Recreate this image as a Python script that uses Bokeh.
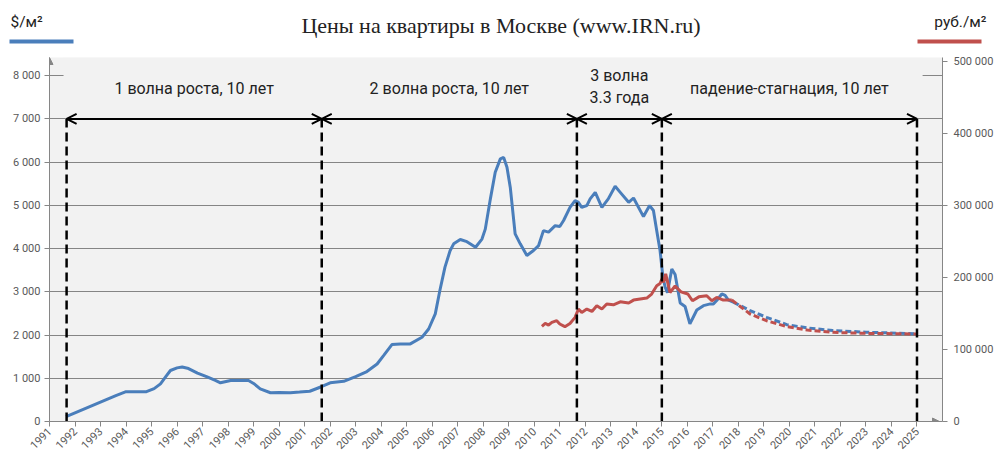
import math
from bokeh.plotting import figure
from bokeh.layouts import column, row
from bokeh.models import (Range1d, LinearAxis, FixedTicker, Label, Arrow,
                          OpenHead, NormalHead)
from bokeh.core.properties import value
from bokeh.embed import file_html
from bokeh.resources import INLINE

# ---------------- data ----------------
title_text = "Цены на квартиры в Москве (www.IRN.ru)"
usd_unit = "$/м²"
rub_unit = "руб./м²"

year_ticks = list(range(1991, 2026))
usd_ticks = [0, 1000, 2000, 3000, 4000, 5000, 6000, 7000, 8000]
usd_tick_labels = ["0", "1 000", "2 000", "3 000", "4 000", "5 000", "6 000", "7 000", "8 000"]
rub_ticks = [0, 100000, 200000, 300000, 400000, 500000]
rub_tick_labels = ["0", "100 000", "200 000", "300 000", "400 000", "500 000"]

wave_bounds = [1991.67, 2001.67, 2011.67, 2015.0, 2025.0]
wave_labels = [["1 волна роста, 10 лет"], ["2 волна роста, 10 лет"],
               ["3 волна", "3.3 года"], ["падение-стагнация, 10 лет"]]
wave_level = 7000

usd_x = [1991.65, 1993.6, 1994.0, 1994.8, 1995.1, 1995.35, 1995.55, 1995.74, 1996.0,
         1996.2, 1996.45, 1996.8, 1997.18, 1997.5, 1997.7, 1998.1, 1998.8, 1999.0,
         1999.26, 1999.66, 2000.0, 2000.44, 2000.8, 2001.2, 2001.68, 2002.0, 2002.53,
         2003.0, 2003.44, 2003.84, 2004.1, 2004.42, 2004.75, 2005.14, 2005.6, 2005.86,
         2006.12, 2006.3, 2006.5, 2006.7, 2006.84, 2007.1, 2007.36, 2007.7, 2007.95,
         2008.08, 2008.28, 2008.47, 2008.67, 2008.8, 2008.93, 2009.06, 2009.25, 2009.45,
         2009.71, 2009.97, 2010.17, 2010.36, 2010.56, 2010.82, 2011.0, 2011.15, 2011.4,
         2011.6, 2011.73, 2011.86, 2012.06, 2012.19, 2012.39, 2012.65, 2012.9, 2013.17,
         2013.37, 2013.7, 2013.89, 2014.28, 2014.52, 2014.67, 2014.8, 2014.93, 2015.04,
         2015.13, 2015.22, 2015.39, 2015.52, 2015.72, 2015.91, 2016.1, 2016.37, 2016.63,
         2016.9, 2017.02, 2017.15, 2017.35, 2017.48, 2017.6, 2017.8]
usd_y = [115, 600, 690, 690, 760, 870, 1030, 1180, 1240,
         1260, 1225, 1120, 1030, 950, 895, 950, 950, 880,
         755, 665, 670, 665, 680, 700, 810, 895, 930,
         1040, 1155, 1330, 1530, 1780, 1795, 1795, 1950, 2140,
         2490, 3030, 3570, 3950, 4110, 4210, 4160, 4030, 4220,
         4450, 5150, 5765, 6075, 6110, 5880, 5415, 4340, 4110,
         3840, 3955, 4070, 4415, 4380, 4530, 4510, 4650, 4955,
         5110, 5070, 4955, 4995, 5150, 5300, 4955, 5150, 5440,
         5300, 5070, 5170, 4740, 4995, 4880, 4415, 3955, 3350,
         3105, 2980, 3530, 3400, 2740, 2660, 2260, 2580, 2680,
         2720, 2720, 2800, 2950, 2915, 2815, 2760]

usd_fc_x = [2017.8, 2018.46, 2019.1, 2019.9, 2020.7, 2021.7, 2023.0, 2025.0]
usd_fc_y = [2760, 2565, 2410, 2240, 2165, 2105, 2065, 2030]

rub_x = [2010.3, 2010.43, 2010.56, 2010.69, 2010.88, 2011.0, 2011.2, 2011.4, 2011.6,
         2011.73, 2011.86, 2012.06, 2012.26, 2012.45, 2012.65, 2012.84, 2013.1, 2013.37,
         2013.7, 2013.89, 2014.15, 2014.41, 2014.6, 2014.8, 2014.93, 2015.0, 2015.06,
         2015.15, 2015.32, 2015.52, 2015.75, 2016.02, 2016.2, 2016.45, 2016.76, 2016.96,
         2017.15, 2017.41, 2017.74]
rub_y = [132000, 136100, 133900, 137500, 139900, 135300, 131600, 136100, 144500,
         156100, 151400, 156100, 152800, 160700, 156100, 163000, 162000, 166200,
         164400, 168500, 169900, 171300, 176900, 188400, 191500, 197600, 193000,
         205000, 179100, 188000, 180000, 177000, 167600, 173000, 174500, 167600,
         172200, 168600, 168600]

rub_fc_x = [2017.74, 2018.46, 2019.1, 2019.9, 2020.7, 2021.7, 2023.0, 2025.0]
rub_fc_y = [168600, 149200, 139900, 131600, 127000, 123700, 122300, 121500]

# ---------------- styling ----------------
BLUE = "#4A7EBB"
RED = "#C0504D"
AXIS = "#868686"
LABEL = "#595959"
BG = "#F2F2F2"
SANS = "Roboto"
DARK = "#222222"

W = 997
HEAD_H = 50
TOTAL_H = 462
X0, X1 = 1991, 2026
Y1 = 8420
RUB_SCALE = 60

# frame geometry in page pixels (for annotation placement)
FL, FR, FT, FB = 49, 942, 57, 421

def px_y(py):
    return (FB - py) * Y1 / (FB - FT)

# ---------------- header ----------------
h = figure(width=W, height=HEAD_H, output_backend="svg", toolbar_location=None,
           x_range=Range1d(0, W), y_range=Range1d(HEAD_H, 0),
           x_axis_location=None, y_axis_location=None,
           min_border=0, outline_line_color=None, background_fill_color="white",
           border_fill_color="white")
h.grid.visible = False
h.text(x=[(301 + 700) / 2], y=[25], text=[title_text], text_align="center",
       text_baseline="middle", text_font=value("Liberation Serif"),
       text_font_size="22px", text_color=DARK)
h.text(x=[10], y=[21], text=[usd_unit], text_align="left", text_baseline="middle",
       text_font=value(SANS), text_font_size="15.5px", text_color=DARK)
h.text(x=[986], y=[21], text=[rub_unit], text_align="right", text_baseline="middle",
       text_font=value(SANS), text_font_size="15.5px", text_color=DARK)
h.segment(x0=[9, 917], y0=[41, 41], x1=[73, 981], y1=[41, 41],
          line_color=[BLUE, RED], line_width=4)

# ---------------- main plot ----------------
p = figure(width=W, height=TOTAL_H - HEAD_H, output_backend="svg", toolbar_location=None,
           x_range=Range1d(X0, X1), y_range=Range1d(0, Y1),
           min_border_left=FL, min_border_right=W - FR, min_border_top=FT - HEAD_H,
           min_border_bottom=TOTAL_H - FB,
           background_fill_color=BG, border_fill_color="white", outline_line_color=None)
p.extra_y_ranges = {"rub": Range1d(0, Y1 * RUB_SCALE)}


def style_axis(ax):
    ax.axis_line_color = AXIS
    ax.major_tick_line_color = AXIS
    ax.minor_tick_line_color = None
    ax.major_tick_in = 0
    ax.major_tick_out = 5
    ax.major_label_text_color = LABEL
    ax.major_label_text_font = SANS
    ax.major_label_text_font_size = "11px"


xa = p.xaxis[0]
xa.ticker = FixedTicker(ticks=year_ticks)
xa.major_label_orientation = math.pi / 4
style_axis(xa)
xa.major_label_standoff = 3

ya = p.yaxis[0]
ya.ticker = FixedTicker(ticks=usd_ticks)
ya.major_label_overrides = dict(zip(usd_ticks, usd_tick_labels))
style_axis(ya)
ya.major_label_standoff = 4

ra = LinearAxis(y_range_name="rub", ticker=FixedTicker(ticks=rub_ticks),
                major_label_overrides=dict(zip(rub_ticks, rub_tick_labels)))
style_axis(ra)
ra.major_label_standoff = 6
p.add_layout(ra, "right")

p.xgrid.visible = False
p.ygrid.ticker = FixedTicker(ticks=usd_ticks)
p.ygrid.grid_line_color = "#858585"
p.ygrid.grid_line_width = 1

# box behind the wave labels (hides top grid line)
p.quad(left=[wave_bounds[0] - 0.12], right=[wave_bounds[-1] + 0.22],
       bottom=[wave_level + 250], top=[Y1], fill_color=BG, line_color=None)

# series
p.line(usd_x, usd_y, line_color=BLUE, line_width=3)
p.line(usd_fc_x, usd_fc_y, line_color=BLUE, line_width=3, line_dash="6 3")
p.line(rub_x, rub_y, y_range_name="rub", line_color=RED, line_width=3)
p.line(rub_fc_x, rub_fc_y, y_range_name="rub", line_color=RED, line_width=3, line_dash="6 3")

# wave boundaries
p.segment(x0=wave_bounds, y0=[0] * len(wave_bounds), x1=wave_bounds,
          y1=[wave_level] * len(wave_bounds), line_color="black", line_width=2.5,
          line_dash="9 5")
for a, b, lines in zip(wave_bounds[:-1], wave_bounds[1:], wave_labels):
    p.add_layout(Arrow(start=OpenHead(size=10, line_width=2, line_color="black"),
                       end=OpenHead(size=10, line_width=2, line_color="black"),
                       x_start=a, x_end=b, y_start=wave_level, y_end=wave_level,
                       line_width=2, line_color="black"))
    mid = (a + b) / 2
    ys = [px_y(88)] if len(lines) == 1 else [px_y(75), px_y(97)]
    for t, yy in zip(lines, ys):
        p.add_layout(Label(x=mid, y=yy, text=t, text_align="center", text_baseline="middle",
                           text_font=SANS, text_font_size="16px", text_color=DARK))

# axis arrow heads
p.add_layout(Arrow(end=NormalHead(size=7, fill_color=AXIS, line_color=AXIS),
                   x_start=X0, x_end=X0, y_start=Y1 - 200, y_end=Y1,
                   line_color=AXIS, line_width=1))
p.add_layout(Arrow(end=NormalHead(size=7, fill_color=AXIS, line_color=AXIS),
                   x_start=X0 + (925 - FL) * (X1 - X0) / (FR - FL),
                   x_end=X0 + (939 - FL) * (X1 - X0) / (FR - FL), y_start=0, y_end=0,
                   line_color=AXIS, line_width=1))

layout = column(row(h), p, spacing=0)
open("out.html", "w").write(file_html(layout, INLINE))
